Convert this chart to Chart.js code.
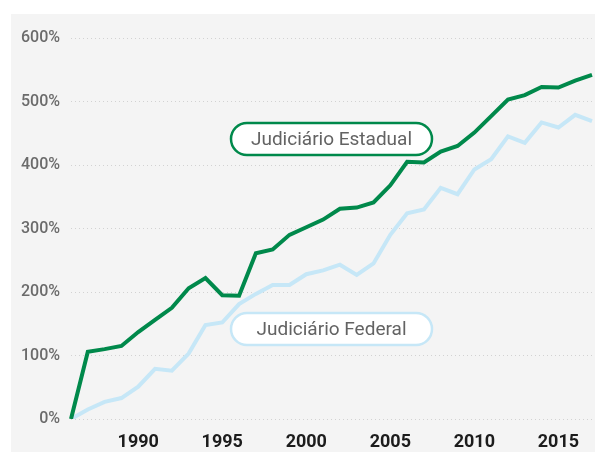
<!DOCTYPE html>
<html>
<head>
<meta charset="utf-8">
<script src="https://cdn.jsdelivr.net/npm/chart.js@4"></script>
<style>
    html, body { margin: 0; padding: 0; background: #ffffff; }
    #wrap { position: relative; width: 595px; height: 452px; }
</style>
</head>
<body>
<div id="wrap"><canvas id="growthChart" width="595" height="452"></canvas></div>
<script>
// Data
const years = [1986, 1987, 1988, 1989, 1990, 1991, 1992, 1993, 1994, 1995, 1996,
    1997, 1998, 1999, 2000, 2001, 2002, 2003, 2004, 2005, 2006, 2007,
    2008, 2009, 2010, 2011, 2012, 2013, 2014, 2015, 2016, 2017];
const estadual = [0, 106, 110, 115, 137, 156, 175, 206, 222, 195, 194,
    261, 267, 290, 302, 314, 331, 333, 341, 368, 405, 404,
    421, 430, 451, 477, 503, 510, 523, 522, 533, 542];
const federal = [0, 15, 27, 33, 51, 79, 76, 103, 148, 152, 181,
    197, 211, 211, 228, 234, 243, 227, 245, 290, 324, 330,
    364, 354, 393, 409, 445, 435, 467, 459, 479, 469];
const yTicks = [0, 100, 200, 300, 400, 500, 600];
const xTickYears = [1990, 1995, 2000, 2005, 2010, 2015];
const seriesNames = ['Judiciário Estadual', 'Judiciário Federal'];

const GREEN = '#00894b';
const BLUE = '#c6e7f7';

// grey panel behind the plot
const panelPlugin = {
    id: 'panel',
    beforeDraw(chart) {
        const ctx = chart.ctx;
        ctx.save();
        ctx.fillStyle = '#f4f4f4';
        ctx.fillRect(11, 14, chart.width - 11, chart.height - 14);
        ctx.restore();
    }
};

// pill shaped series labels
const pillPlugin = {
    id: 'pills',
    afterDatasetsDraw(chart) {
        const ctx = chart.ctx;
        const pills = [
            { text: seriesNames[0], color: GREEN, x: 231, y: 123 },
            { text: seriesNames[1], color: BLUE, x: 231, y: 313 }
        ];
        pills.forEach(p => {
            const w = 201, h = 32, r = 16;
            ctx.save();
            ctx.beginPath();
            ctx.roundRect(p.x, p.y, w, h, r);
            ctx.fillStyle = '#ffffff';
            ctx.fill();
            ctx.lineWidth = 2.5;
            ctx.strokeStyle = p.color;
            ctx.stroke();
            ctx.fillStyle = '#636363';
            ctx.font = "19px 'Roboto', sans-serif";
            ctx.textAlign = 'center';
            ctx.textBaseline = 'middle';
            ctx.fillText(p.text, p.x + w / 2, p.y + h / 2 + 1);
            ctx.restore();
        });
    }
};

const ctx = document.getElementById('growthChart').getContext('2d');
new Chart(ctx, {
    type: 'line',
    data: {
        labels: years,
        datasets: [{
            label: seriesNames[0],
            data: estadual,
            borderColor: GREEN,
            borderWidth: 4,
            pointRadius: 0,
            tension: 0
        }, {
            label: seriesNames[1],
            data: federal,
            borderColor: BLUE,
            borderWidth: 4,
            pointRadius: 0,
            tension: 0
        }]
    },
    options: {
        responsive: false,
        animation: false,
        layout: { padding: { top: 38, right: 3, left: 0, bottom: 0 } },
        plugins: {
            legend: { display: false },
            tooltip: { enabled: false }
        },
        scales: {
            x: {
                type: 'category',
                offset: false,
                grid: { display: false, drawTicks: false },
                border: { display: false },
                afterFit: (axis) => {
                    axis.height = 33;
                    axis.paddingLeft = 0;
                    axis.paddingRight = 0;
                },
                ticks: {
                    autoSkip: false,
                    maxRotation: 0,
                    padding: 13,
                    color: '#1c1c1c',
                    font: { family: 'Roboto', size: 18, weight: 'bold' },
                    callback: (v, i) => xTickYears.includes(years[i]) ? String(years[i]) : ''
                }
            },
            y: {
                min: yTicks[0],
                max: yTicks[yTicks.length - 1],
                afterBuildTicks: (axis) => { axis.ticks = yTicks.map(v => ({ value: v })); },
                afterFit: (axis) => { axis.width = 71; },
                grid: { color: '#d2d2d2', lineWidth: 1, drawTicks: false },
                border: { display: false, dash: [1, 3] },
                ticks: {
                    padding: 11,
                    color: '#6b6b6b',
                    font: { family: 'Roboto', size: 16, weight: '500' },
                    callback: (v) => v + '%'
                }
            }
        }
    },
    plugins: [panelPlugin, pillPlugin]
});
</script>
</body>
</html>
